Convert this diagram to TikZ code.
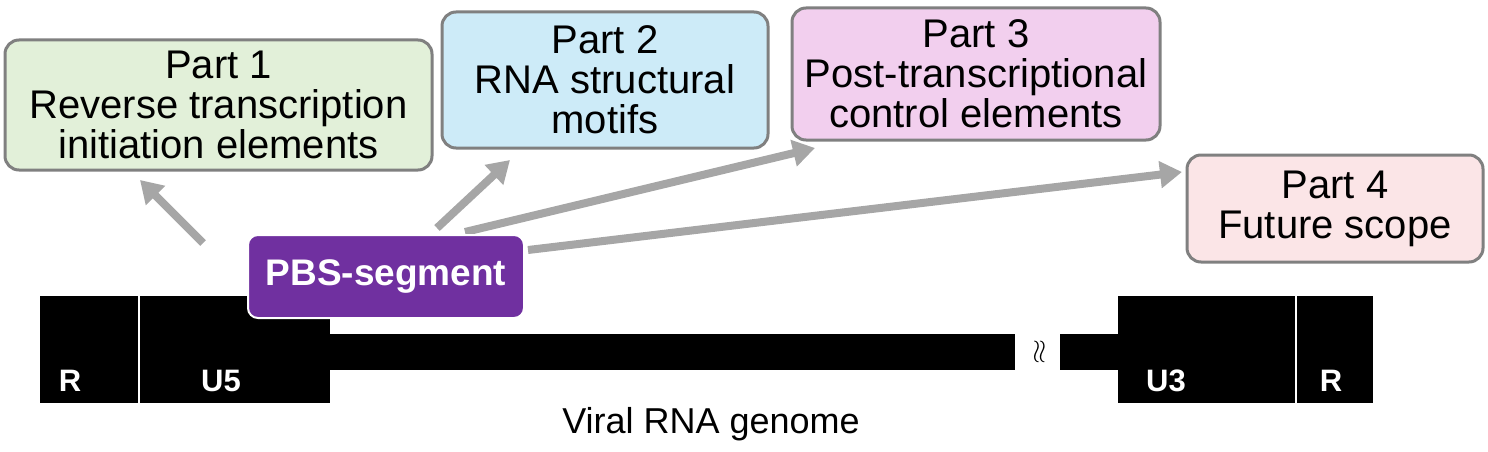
\documentclass[tikz,border=0pt]{standalone}
\usepackage{fontspec}
\setmainfont{Liberation Sans}
\usetikzlibrary{arrows.meta}
\definecolor{pur}{HTML}{7030A0}
\definecolor{gr}{HTML}{E2F0D9}
\definecolor{bl}{HTML}{CDEBF8}
\definecolor{pk}{HTML}{F2CFEE}
\definecolor{rs}{HTML}{FBE5E7}
\begin{document}
\begin{tikzpicture}[x=1pt,y=-1pt,
  part/.style={draw=black!50,line width=3pt,rounded corners=14pt,align=center,font=\fontsize{40}{40}\selectfont,inner sep=0pt},
  blk/.style={fill=black,draw=none},
  lab/.style={text=white,font=\bfseries\fontsize{31}{34}\selectfont},
  arr/.style={draw=black!35,line width=8pt,-{Triangle[length=22pt,width=26pt]}}]
\useasboundingbox (0,0) rectangle (1488,452);
\node[part,fill=gr,minimum width=427pt,minimum height=130pt] (p1) at (218.5,105) {Part 1\\Reverse transcription\\initiation elements};
\node[part,fill=bl,minimum width=326pt,minimum height=136pt] (p2) at (605,80) {Part 2\\RNA structural\\motifs};
\node[part,fill=pk,minimum width=368pt,minimum height=132pt] (p3) at (976,74) {Part 3\\Post-transcriptional\\control elements};
\node[part,fill=rs,minimum width=296pt,minimum height=107pt] (p4) at (1335,208.5) {Part 4\\Future scope};
% genome
\fill[blk] (40,296) rectangle (330,403);
\draw[white,line width=2pt] (139,296) -- (139,403);
\fill[blk] (330,334) rectangle (1015,370);
\fill[blk] (1060,334) rectangle (1118,370);
\fill[blk] (1118,296) rectangle (1373,403);
\draw[white,line width=2pt] (1296,296) -- (1296,403);
\node[font=\fontsize{36}{36}\selectfont,rotate=90,xscale=1.3] (wave) at (1040,352) {$\approx$};
\node[lab] (r1) at (70,381) {R};
\node[lab] (u5) at (221,381) {U5};
\node[lab] (u3) at (1166,381) {U3};
\node[lab] (r2) at (1331,381) {R};
\node[font=\fontsize{36}{40}\selectfont] (vg) at (711,424) {Viral RNA genome};
\coordinate (s1) at (203,243);
\coordinate (s2) at (437,228);
\coordinate (s3) at (465,232);
\coordinate (s4) at (528,250);
\draw[arr] (s1) -- (140,180);
\draw[arr] (s2) -- (510,160);
\draw[arr] (s3) -- (815,148);
\draw[arr] (s4) -- (1182,172);
\node[fill=pur,draw=white,line width=2pt,rounded corners=10pt,minimum width=276pt,minimum height=83pt,text=white,font=\bfseries\fontsize{37}{40}\selectfont] (pbs) at (386,276.5) {PBS-segment};
\end{tikzpicture}
\end{document}
